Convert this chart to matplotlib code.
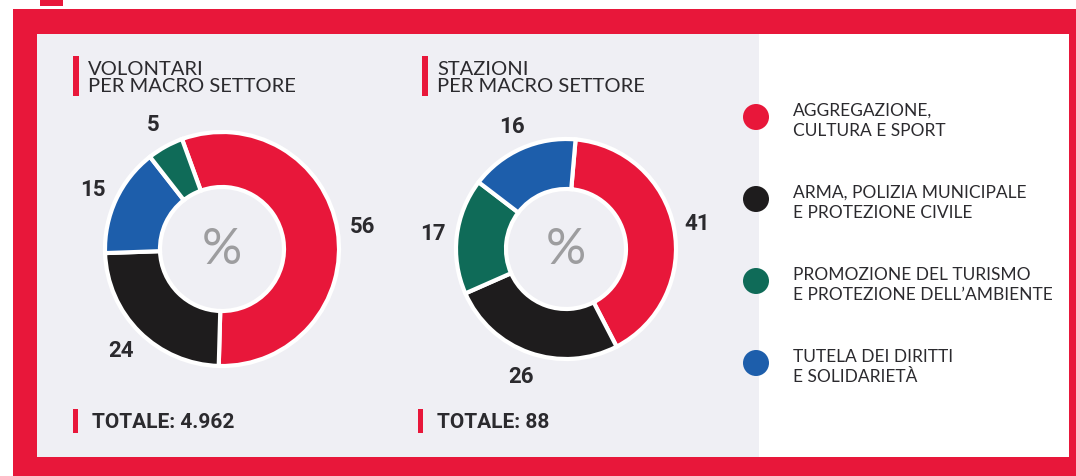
import numpy as np
import matplotlib.pyplot as plt
from matplotlib.patches import Rectangle, Circle

# data
settori = ["AGGREGAZIONE,\nCULTURA E SPORT",
           "ARMA, POLIZIA MUNICIPALE\nE PROTEZIONE CIVILE",
           "PROMOZIONE DEL TURISMO\nE PROTEZIONE DELL\u2019AMBIENTE",
           "TUTELA DEI DIRITTI\nE SOLIDARIET\u00c0"]
colori = ["#e8173a", "#1e1c1d", "#0f6b58", "#1d5eab"]

volontari = [56, 24, 5, 15]
stazioni = [41, 26, 17, 16]
totale_volontari = "4.962"
totale_stazioni = "88"

RED = "#e8173a"
GREY = "#efeff4"
TXT = "#2b2a2e"
W, H = 1076, 477
bold_font = ["Liberation Sans Narrow", "Roboto", "DejaVu Sans"]
light_font = ["Lato", "DejaVu Sans"]

fig = plt.figure(figsize=(W / 100, H / 100), dpi=100)
fig.patch.set_facecolor("white")

# background axis in pixel coords
bg = fig.add_axes([0, 0, 1, 1])
bg.set_xlim(0, W)
bg.set_ylim(H, 0)
bg.axis("off")

bg.add_patch(Rectangle((40, 0), 23, 7, color=RED, lw=0))
bg.add_patch(Rectangle((13, 10), 1063, 467, color=RED, lw=0))
bg.add_patch(Rectangle((37, 35), 1032, 423, color="white", lw=0))
bg.add_patch(Rectangle((37, 35), 722, 423, color=GREY, lw=0))


def px_axes(cx, cy, r):
    return fig.add_axes([(cx - r) / W, 1 - (cy + r) / H, 2 * r / W, 2 * r / H])


def donut(cx, cy, r, width, values, order, start):
    ax = px_axes(cx, cy, r * 1.4)
    vals = [values[i] for i in order]
    cols = [colori[i] for i in order]
    wedges, _ = ax.pie(vals, colors=cols, startangle=start, counterclock=False,
                       radius=1 / 1.4, wedgeprops=dict(width=width / (r * 1.4), edgecolor="white", linewidth=3))
    ax.set_xlim(-1, 1)
    ax.set_ylim(-1, 1)
    ax.set_aspect("equal")
    ax.axis("off")
    for w, v in zip(wedges, vals):
        ang = np.deg2rad((w.theta1 + w.theta2) / 2)
        d = 1.22 / 1.4
        ax.text(d * np.cos(ang), d * np.sin(ang), str(v), ha="center", va="center",
                fontsize=16, fontweight="bold", color=TXT, family=bold_font)
    ax.text(0, 0, "%", ha="center", va="center", fontsize=36, color="#9d9d9f", family=light_font)


donut(222, 250, 117, 55, volontari, [0, 1, 3, 2], 110)
donut(566, 250, 110, 50, stazioni, [0, 1, 2, 3], 85)

# titles
for x, t in [(88, "VOLONTARI\nPER MACRO SETTORE"), (437, "STAZIONI\nPER MACRO SETTORE")]:
    bg.add_patch(Rectangle((x - 15, 57), 6, 40, color=RED, lw=0))
    bg.text(x, 78, t, ha="left", va="center", fontsize=14.5, color=TXT,
            family=light_font, linespacing=0.95)

# totals
for x, t in [(92, totale_volontari), (437, totale_stazioni)]:
    bg.add_patch(Rectangle((x - 19, 410), 5, 24, color=RED, lw=0))
    bg.text(x, 423, "TOTALE: " + t, ha="left", va="center", fontsize=15,
            fontweight="bold", color=TXT, family=bold_font)

# legend
for i, (lab, c) in enumerate(zip(settori, colori)):
    y = 118 + i * 82
    bg.add_patch(Circle((756, y), 13, color=c, lw=0))
    bg.text(793, y + 3, lab, ha="left", va="center", fontsize=12.5, color=TXT,
            family=light_font, linespacing=1.35)

fig.savefig("out.png", dpi=100)
